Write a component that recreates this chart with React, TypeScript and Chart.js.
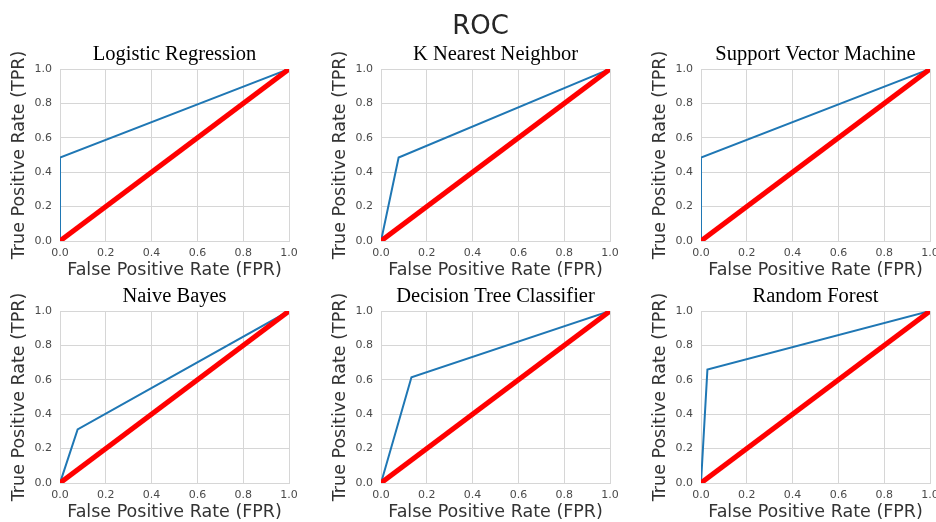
import React, { useEffect, useRef } from "react";
import { Chart, registerables } from "chart.js";

Chart.register(...registerables);

// ---------- data ----------
const mainTitle = "ROC";
const modelNames = [
  "Logistic Regression",
  "K Nearest Neighbor",
  "Support Vector Machine",
  "Naive Bayes",
  "Decision Tree Classifier",
  "Random Forest",
];
const fprLR = [0, 0, 1];
const tprLR = [0, 0.485, 1];
const fprKNN = [0, 0.077, 1];
const tprKNN = [0, 0.485, 1];
const fprSVM = [0, 0, 1];
const tprSVM = [0, 0.485, 1];
const fprNB = [0, 0.077, 1];
const tprNB = [0, 0.312, 1];
const fprDT = [0, 0.133, 1];
const tprDT = [0, 0.615, 1];
const fprRF = [0, 0.028, 1];
const tprRF = [0, 0.66, 1];
const chanceLine = [0, 1];
const tickValues = [0, 0.2, 0.4, 0.6, 0.8, 1.0];
const xLabel = "False Positive Rate (FPR)";
const yLabel = "True Positive Rate (TPR)";

const fprList = [fprLR, fprKNN, fprSVM, fprNB, fprDT, fprRF];
const tprList = [tprLR, tprKNN, tprSVM, tprNB, tprDT, tprRF];

// ---------- layout / style ----------
const COL_LEFTS = [60, 381, 701];
const ROW_TOPS = [69, 311];
const PW = 229;
const PH = 172;
const ML = 60;
const MR = 60;
const MT = 50;
const MB = 50;
const SANS = "'DejaVu Sans', 'Liberation Sans', sans-serif";
const SERIF = "'Liberation Serif', 'Times New Roman', 'DejaVu Serif', serif";
const GRID = "#d6d6d6";
const TICK_COLOR = "#4a4a4a";
const LABEL_COLOR = "#333333";

function Panel({ index }: { index: number }) {
  const ref = useRef<HTMLCanvasElement | null>(null);
  useEffect(() => {
    const canvas = ref.current;
    if (!canvas) return;
    const fpr = fprList[index];
    const tpr = tprList[index];
    const chart = new Chart(canvas, {
      type: "line",
      data: {
        datasets: [
          {
            data: chanceLine.map((v) => ({ x: v, y: v })),
            borderColor: "#ff0000",
            borderWidth: 5,
            pointRadius: 0,
            tension: 0,
            fill: false,
            clip: 0,
          },
          {
            data: fpr.map((x, i) => ({ x, y: tpr[i] })),
            borderColor: "#1f77b4",
            borderWidth: 2,
            pointRadius: 0,
            tension: 0,
            fill: false,
            clip: 0,
          },
        ],
      },
      options: {
        responsive: false,
        animation: false,
        events: [],
        layout: { padding: { left: 0, top: 0, bottom: 0, right: MR } },
        plugins: {
          legend: { display: false },
          tooltip: { enabled: false },
          title: {
            display: true,
            text: modelNames[index],
            fullSize: false,
            color: "#000000",
            font: { family: SERIF, size: 20.5, weight: "normal", lineHeight: 1 },
            padding: { top: 25.5, bottom: 4 },
          },
        },
        scales: {
          x: {
            type: "linear",
            min: 0,
            max: 1,
            afterFit: (s: any) => {
              s.height = MB;
            },
            afterBuildTicks: (s: any) => {
              s.ticks = tickValues.map((v) => ({ value: v }));
            },
            grid: { color: GRID, lineWidth: 1, drawTicks: false },
            border: { display: true, color: GRID, width: 1 },
            ticks: {
              padding: 6,
              color: TICK_COLOR,
              font: { family: SANS, size: 11 },
              maxRotation: 0,
              autoSkip: false,
              callback: (v: any) => Number(v).toFixed(1),
            },
            title: {
              display: true,
              text: xLabel,
              color: LABEL_COLOR,
              font: { family: SANS, size: 17.5, lineHeight: 1 },
              padding: { top: 0, bottom: 11.5 },
            },
          },
          y: {
            type: "linear",
            min: 0,
            max: 1,
            afterFit: (s: any) => {
              s.width = ML;
            },
            afterBuildTicks: (s: any) => {
              s.ticks = tickValues.map((v) => ({ value: v }));
            },
            grid: { color: GRID, lineWidth: 1, drawTicks: false },
            border: { display: true, color: GRID, width: 1 },
            ticks: {
              padding: 8,
              color: TICK_COLOR,
              font: { family: SANS, size: 11 },
              autoSkip: false,
              callback: (v: any) => Number(v).toFixed(1),
            },
            title: {
              display: true,
              text: yLabel,
              color: LABEL_COLOR,
              font: { family: SANS, size: 17.5, lineHeight: 1 },
              padding: { top: 11, bottom: 0 },
            },
          },
        },
      } as any,
    });
    return () => chart.destroy();
  }, [index]);

  const col = index % 3;
  const row = Math.floor(index / 3);
  const w = ML + PW + MR;
  const h = MT + PH + MB;
  return (
    <canvas
      ref={ref}
      width={w}
      height={h}
      style={{
        position: "absolute",
        left: COL_LEFTS[col] - ML,
        top: ROW_TOPS[row] - MT,
        width: w,
        height: h,
      }}
    />
  );
}

export default function App() {
  return (
    <div
      style={{
        position: "fixed",
        left: 0,
        top: 0,
        width: 936,
        height: 522,
        overflow: "hidden",
        background: "#ffffff",
      }}
    >
      {modelNames.map((_, i) => (
        <Panel key={i} index={i} />
      ))}
      <div
        style={{
          position: "absolute",
          left: 380,
          width: 201,
          top: 12,
          textAlign: "center",
          fontFamily: SANS,
          fontSize: 26,
          lineHeight: "26px",
          color: "#262626",
        }}
      >
        {mainTitle}
      </div>
    </div>
  );
}
